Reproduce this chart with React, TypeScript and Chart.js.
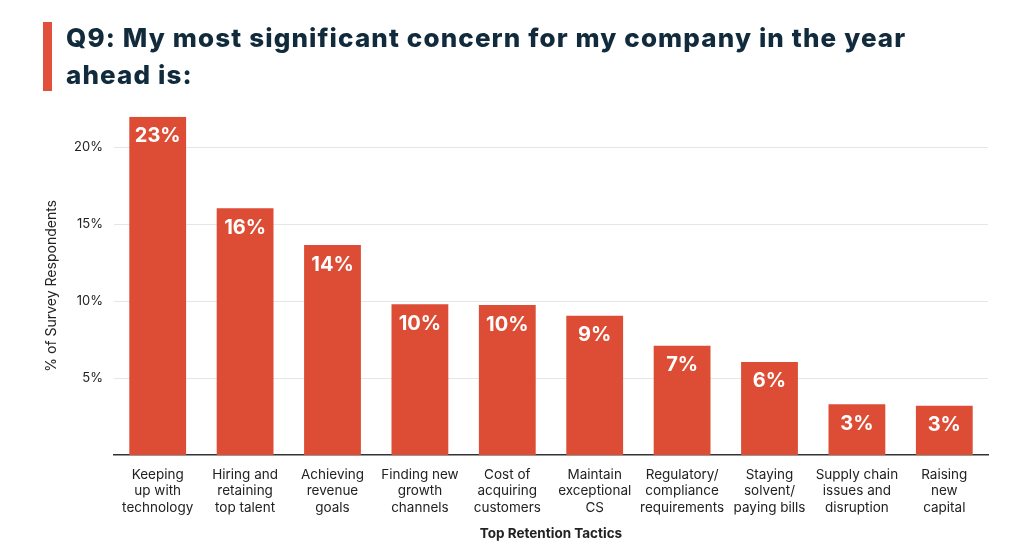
import React, { useEffect, useRef } from "react";
import { Chart, registerables } from "chart.js";

Chart.register(...registerables);

const titleLines = ["Q9: My most significant concern for my company in the year", "ahead is:"];
const categories: string[][] = [
  ["Keeping", "up with", "technology"],
  ["Hiring and", "retaining", "top talent"],
  ["Achieving", "revenue", "goals"],
  ["Finding new", "growth", "channels"],
  ["Cost of", "acquiring", "customers"],
  ["Maintain", "exceptional", "CS"],
  ["Regulatory/", "compliance", "requirements"],
  ["Staying", "solvent/", "paying bills"],
  ["Supply chain", "issues and", "disruption"],
  ["Raising", "new", "capital"],
];
const values = [22.0, 16.05, 13.65, 9.8, 9.75, 9.05, 7.1, 6.05, 3.3, 3.2];
const valueLabels = ["23%", "16%", "14%", "10%", "10%", "9%", "7%", "6%", "3%", "3%"];
const yTicks = [5, 10, 15, 20];
const yMax = 22;
const yTitle = "% of Survey Respondents";
const xTitle = "Top Retention Tactics";

const BAR = "rgb(221,76,52)";
const FONT = "Inter, 'Noto Sans', sans-serif";

const valueLabelPlugin = {
  id: "valueLabels",
  afterDatasetsDraw(chart: any) {
    const { ctx } = chart;
    const meta = chart.getDatasetMeta(0);
    ctx.save();
    ctx.fillStyle = "#ffffff";
    ctx.font = `700 20px ${FONT}`;
    ctx.textAlign = "center";
    ctx.textBaseline = "middle";
    meta.data.forEach((bar: any, i: number) => {
      ctx.fillText(valueLabels[i], bar.x, bar.y + 19.5);
    });
    ctx.restore();
  },
};

export default function App() {
  const ref = useRef<HTMLCanvasElement | null>(null);
  useEffect(() => {
    if (!ref.current) return;
    const chart = new Chart(ref.current, {
      type: "bar",
      data: {
        labels: categories,
        datasets: [
          {
            data: values,
            backgroundColor: BAR,
            borderWidth: 0,
            barPercentage: 0.65,
            categoryPercentage: 1,
          },
        ],
      },
      options: {
        responsive: false,
        animation: false,
        layout: { padding: { top: 116.7, right: 36, left: 0, bottom: 0 } },
        plugins: { legend: { display: false }, tooltip: { enabled: false } },
        scales: {
          x: {
            grid: { display: false, drawTicks: false },
            border: { display: true, color: "#333333", width: 1.5 },
            ticks: {
              color: "#222222",
              font: { family: FONT, size: 13.5 },
              padding: 12,
              maxRotation: 0,
              autoSkip: false,
            },
            title: {
              display: true,
              text: xTitle,
              color: "#222222",
              font: { family: FONT, size: 13.5, weight: "bold" },
              padding: { top: 0, bottom: 14 },
            },
            afterFit: (s: any) => {
              s.height = 101;
            },
          },
          y: {
            min: 0,
            max: yMax,
            grid: { color: "#e6e6e6", lineWidth: 1, drawTicks: false },
            border: { display: false },
            ticks: {
              color: "#222222",
              font: { family: FONT, size: 13 },
              padding: 11,
              callback: (v: any) => `${v}%`,
            },
            afterBuildTicks: (s: any) => {
              s.ticks = yTicks.map((v) => ({ value: v }));
            },
            title: {
              display: true,
              text: yTitle,
              color: "#222222",
              font: { family: FONT, size: 14 },
              padding: { top: 43, bottom: 0 },
            },
            afterFit: (s: any) => {
              s.width = 114;
            },
          },
        },
      },
      plugins: [valueLabelPlugin],
    });
    return () => chart.destroy();
  }, []);

  return (
    <div style={{ position: "fixed", left: 0, top: 0, width: 1024, height: 556, background: "#fff" }}>
      <canvas ref={ref} width={1024} height={556} style={{ position: "absolute", left: 0, top: 0 }} />
      <div style={{ position: "absolute", left: 43, top: 22, width: 9, height: 69, background: "#E0503A" }} />
      <div
        style={{
          position: "absolute",
          left: 66,
          top: 19,
          fontFamily: FONT,
          fontWeight: 800,
          fontSize: 26,
          letterSpacing: "1.12px",
          lineHeight: "37px",
          color: "#112b3c",
          whiteSpace: "nowrap",
        }}
      >
        {titleLines.map((t, i) => (
          <div key={i}>{t}</div>
        ))}
      </div>
    </div>
  );
}
